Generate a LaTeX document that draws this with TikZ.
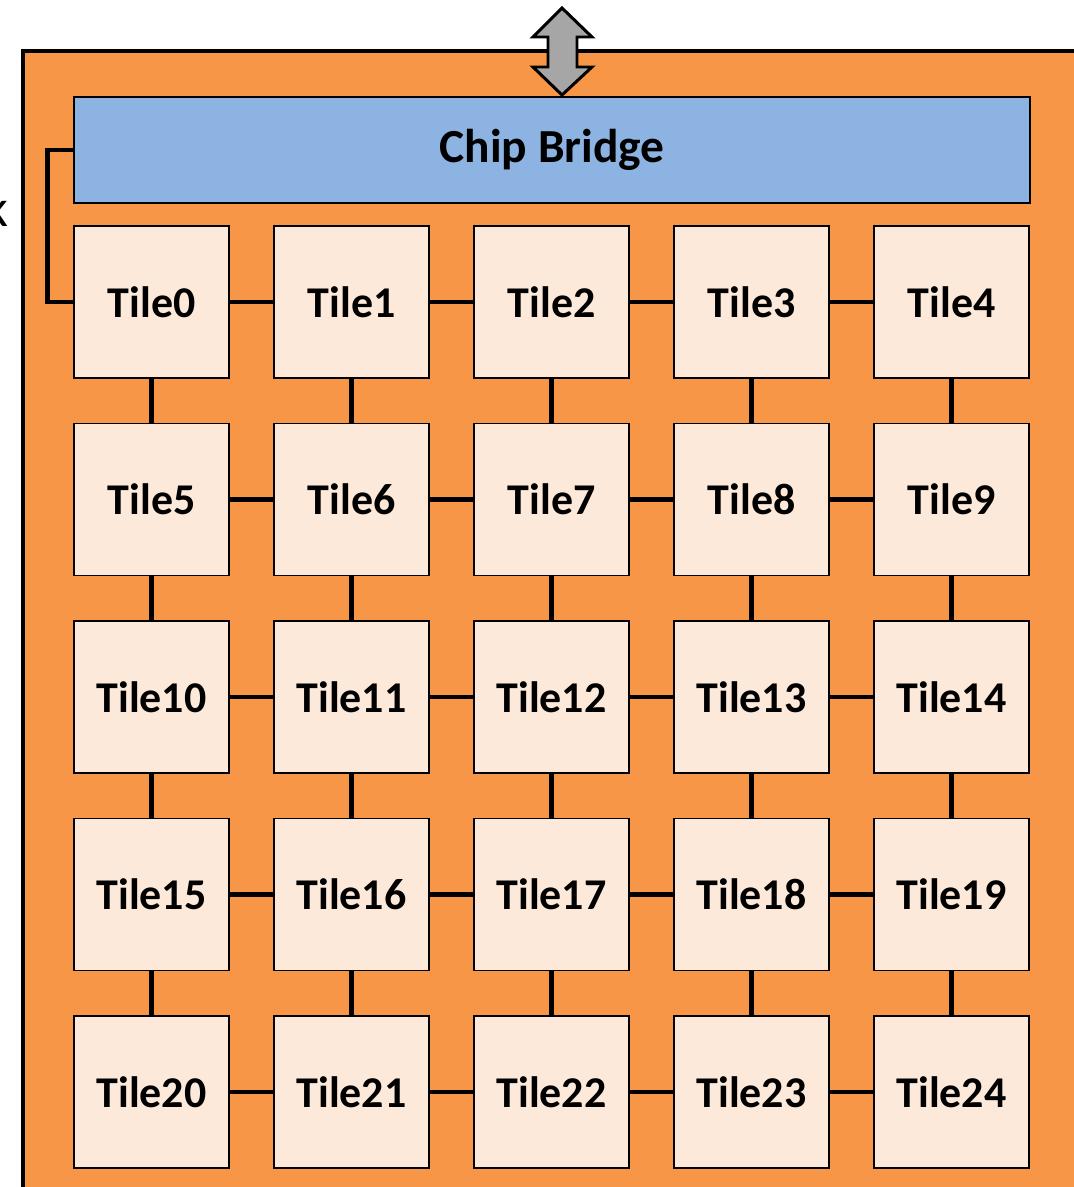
\documentclass[tikz,border=0pt]{standalone}
\usepackage{fontspec}
\setmainfont{Carlito}
\usetikzlibrary{calc}

\begin{document}
\begin{tikzpicture}[x=0.02cm, y=-0.02cm, font=\bfseries\fontsize{25}{29}\selectfont]

% --- base colors (office-ish) ---
\definecolor{cChip}  {HTML}{F79646}
\definecolor{cBridge}{HTML}{8DB3E2}
\definecolor{cTile}  {HTML}{FDE9D9}
\definecolor{cPort}  {HTML}{A6A6A6}

\tikzset{
  tile/.style={draw, line width=1.1pt, fill=cTile, minimum width=3.1cm,
    minimum height=3.04cm, inner sep=0pt},
  bridge/.style={draw, line width=1.1pt, fill=cBridge, minimum width=19.12cm,
    minimum height=2.12cm, font=\bfseries\fontsize{27}{31}\selectfont},
  link/.style={line width=2.7pt},
}

% --- grid params (pixels) ---
\pgfmathsetmacro{\gx}{200}
\pgfmathsetmacro{\gy}{197.5}

\useasboundingbox (0,0) rectangle (1074,1187);

% --- chip outline ---
\draw[fill=cChip, line width=2.3pt] (23,51) rectangle (1110,1220);

% --- cut-off label at the left ---
\node[anchor=east, font=\fontsize{30}{34}\selectfont, inner sep=0pt] (lbl) at (9,208) {k};

% --- chip bridge ---
\node[bridge] (bridge) at (552,150) {Chip Bridge};

% --- tiles ---
\foreach \r in {0,...,4}{%
  \foreach \c in {0,...,4}{%
    \pgfmathtruncatemacro{\idx}{\r*5 + \c}
    \node[tile] (t\idx) at (151.5+\c*\gx, 302+\r*\gy) {Tile\idx};
  }
}

% --- mesh links ---
\foreach \r in {0,...,4}{%
  \foreach \c in {0,...,3}{%
    \pgfmathtruncatemacro{\a}{\r*5 + \c}
    \pgfmathtruncatemacro{\b}{\a + 1}
    \draw[link] (t\a.east) -- (t\b.west);
  }
}
\foreach \a in {0,...,19}{%
  \pgfmathtruncatemacro{\b}{\a + 5}
  \draw[link] (t\a.south) -- (t\b.north);
}

% --- bridge to Tile0 ---
\draw[link] (bridge.west) -- ++(-26,0) |- (t0.west);

% --- off-chip port ---
\draw[fill=cPort, line width=1.7pt, line join=miter]
  (562,8) -- (592,37) -- (577,37) -- (577,67) -- (592,67) -- (562,95)
  -- (533,67) -- (548,67) -- (548,37) -- (533,37) -- cycle;

\end{tikzpicture}
\end{document}
